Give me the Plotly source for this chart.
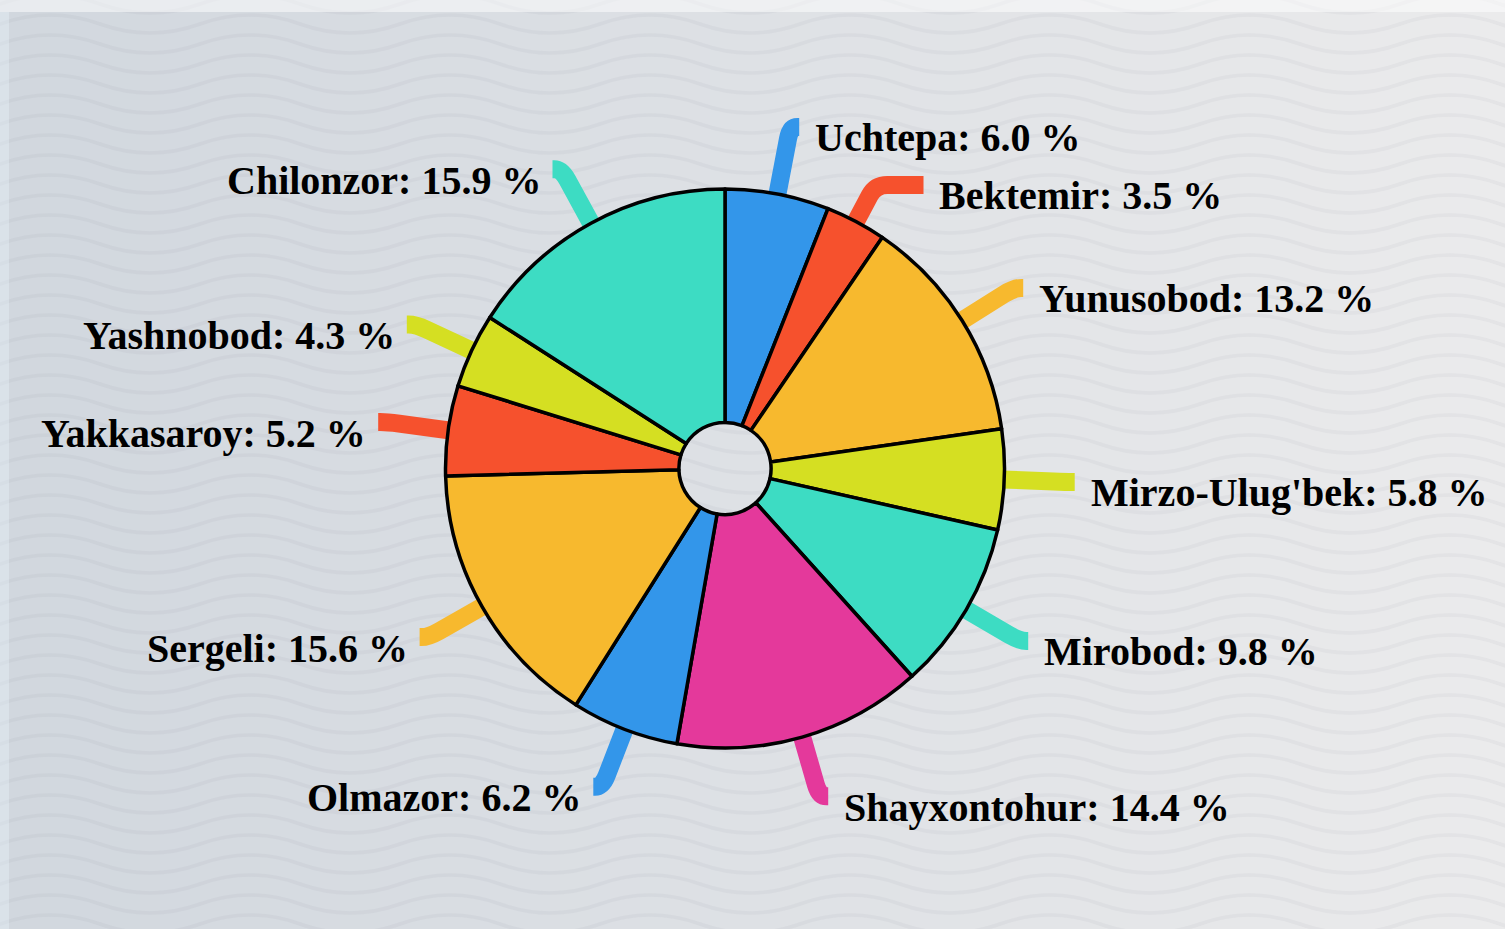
import math
import plotly.graph_objects as go

# ---------------- data ----------------
labels = ["Uchtepa", "Bektemir", "Yunusobod", "Mirzo-Ulug'bek", "Mirobod",
          "Shayxontohur", "Olmazor", "Sergeli", "Yakkasaroy", "Yashnobod", "Chilonzor"]
values = [6.0, 3.5, 13.2, 5.8, 9.8, 14.4, 6.2, 15.6, 5.2, 4.3, 15.9]
colors = ["#3396ea", "#f6512d", "#f7b92e", "#d5df22", "#3ddcc3",
          "#e4399b", "#3396ea", "#f7b92e", "#f6512d", "#d5df22", "#3ddcc3"]

# ---------------- layout constants ----------------
W, H = 1505, 929
CX, CY = 725, 468.5
R_PIE = 279.5
HOLE = 0.165
L1, L2 = 60, 9
GAP_RIGHT, GAP_LEFT = 14, 10
MIN_SEP = 58
UP_SHARE = 0.27
FONT_SIZE = 40

fig = go.Figure()

fig.add_trace(go.Pie(
    labels=labels, values=values, sort=False, direction="clockwise", rotation=0,
    hole=HOLE, textinfo="none", hoverinfo="label+percent",
    marker=dict(colors=colors, line=dict(color="#000000", width=3.5)),
    domain=dict(x=[(CX - R_PIE) / W, (CX + R_PIE) / W],
                y=[1 - (CY + R_PIE) / H, 1 - (CY - R_PIE) / H]),
    showlegend=False,
))

shapes = []

# ---------------- background ----------------
def lerp(a, b, t):
    return a + (b - a) * t

c_left = (209, 215, 222)
c_right = (235, 235, 236)
step = 10
for x0 in range(0, W, step):
    t = (x0 + step / 2) / W
    col = tuple(int(round(lerp(c_left[k], c_right[k], t))) for k in range(3))
    shapes.append(dict(type="rect", xref="x", yref="y", x0=x0, x1=x0 + step + 1,
                       y0=0, y1=H, fillcolor="rgb(%d,%d,%d)" % col,
                       line=dict(width=0), layer="below"))

# waves
lam, amp, spacing = 200, 9, 20
for k in range(-1, int(H / spacing) + 2):
    y = k * spacing + 4
    x = -200
    d = "M %.1f,%.1f Q %.1f,%.1f %.1f,%.1f" % (x, y, x + lam / 4, y - 2 * amp, x + lam / 2, y)
    x += lam / 2
    while x < W + lam:
        x += lam / 2
        d += " T %.1f,%.1f" % (x, y)
    shapes.append(dict(type="path", xref="x", yref="y", path=d,
                       line=dict(color="rgba(90,100,115,0.05)", width=3.5), layer="below"))

# outer frame strips
shapes.append(dict(type="rect", xref="x", yref="y", x0=0, x1=W, y0=0, y1=12,
                   fillcolor="rgba(255,255,255,0.5)", line=dict(width=0), layer="below"))
shapes.append(dict(type="rect", xref="x", yref="y", x0=0, x1=9, y0=12, y1=H,
                   fillcolor="rgba(235,245,255,0.35)", line=dict(width=0), layer="below"))

# ---------------- label layout ----------------
total = sum(values)
r_edge = R_PIE + 1.5
items = []
cum = 0.0
for i, v in enumerate(values):
    ang = (cum + v / 2) / total * 2 * math.pi
    cum += v
    s, c = math.sin(ang), math.cos(ang)
    d = 1 if s >= 0 else -1
    p0 = (CX + (r_edge - 4) * s, CY - (r_edge - 4) * c)
    p1 = (CX + (r_edge + L1) * s, CY - (r_edge + L1) * c)
    items.append(dict(i=i, s=s, c=c, dir=d, p0=p0, p1=p1, ly=p1[1], ny=p1[1]))

for side in (1, -1):
    grp = sorted([it for it in items if it["dir"] == side], key=lambda it: it["ly"])
    for j in range(1, len(grp)):
        overlap = grp[j - 1]["ly"] + MIN_SEP - grp[j]["ly"]
        if overlap > 0:
            grp[j - 1]["ly"] -= overlap * UP_SHARE
            grp[j]["ly"] = grp[j - 1]["ly"] + MIN_SEP

annotations = []
RR = r_edge + L1
for it in items:
    ly = it["ly"]
    dr = it["dir"]
    p0 = it["p0"]
    p1 = it["p1"]
    if abs(ly - it["ny"]) > 0.5 and abs(it["c"]) > 1e-3:
        t = (ly - p0[1]) / (-it["c"])
        p1 = (p0[0] + t * it["s"], ly)
    dy = ly - CY
    dx = math.sqrt(max(RR * RR - dy * dy, 0))
    ex = CX + dr * (dx + L2)
    ex_radial = p1[0] + dr * L2
    ex = ex if dr * ex >= dr * ex_radial else ex_radial
    p2 = (ex, ly)
    v1 = (p1[0] - p0[0], p1[1] - p0[1])
    n1 = math.hypot(*v1)
    v2 = (p2[0] - p1[0], p2[1] - p1[1])
    n2 = math.hypot(*v2)
    m = 12
    a = (p1[0] - v1[0] / n1 * min(m, n1 * 0.5), p1[1] - v1[1] / n1 * min(m, n1 * 0.5))
    mb = min(m, n2 * 0.8)
    b = (p1[0] + v2[0] / n2 * mb, p1[1] + v2[1] / n2 * mb)
    path = "M %.1f,%.1f L %.1f,%.1f Q %.1f,%.1f %.1f,%.1f L %.1f,%.1f" % (
        p0[0], p0[1], a[0], a[1], p1[0], p1[1], b[0], b[1], p2[0], p2[1])
    shapes.append(dict(type="path", xref="x", yref="y", path=path,
                       line=dict(color=colors[it["i"]], width=18), layer="below"))
    gap = GAP_RIGHT if dr > 0 else GAP_LEFT
    annotations.append(dict(
        xref="x", yref="y", x=ex + dr * gap, y=ly + 11,
        xanchor="left" if dr > 0 else "right", yanchor="middle",
        text="%s: %.1f %%" % (labels[it["i"]], values[it["i"]]), showarrow=False,
        font=dict(family="Liberation Serif, Times New Roman, serif", size=FONT_SIZE,
                  color="#000000", weight="bold"),
    ))

fig.update_layout(
    width=W, height=H, margin=dict(l=0, r=0, t=0, b=0, pad=0),
    paper_bgcolor="#dfe4ea", plot_bgcolor="rgba(0,0,0,0)",
    xaxis=dict(range=[0, W], visible=False, fixedrange=True, domain=[0, 1]),
    yaxis=dict(range=[H, 0], visible=False, fixedrange=True, domain=[0, 1]),
    shapes=shapes, annotations=annotations,
)

fig.write_html("out.html", include_plotlyjs=True, full_html=True,
               config={"displayModeBar": False},
               post_script="document.body.style.margin='0';document.body.style.overflow='hidden';")
